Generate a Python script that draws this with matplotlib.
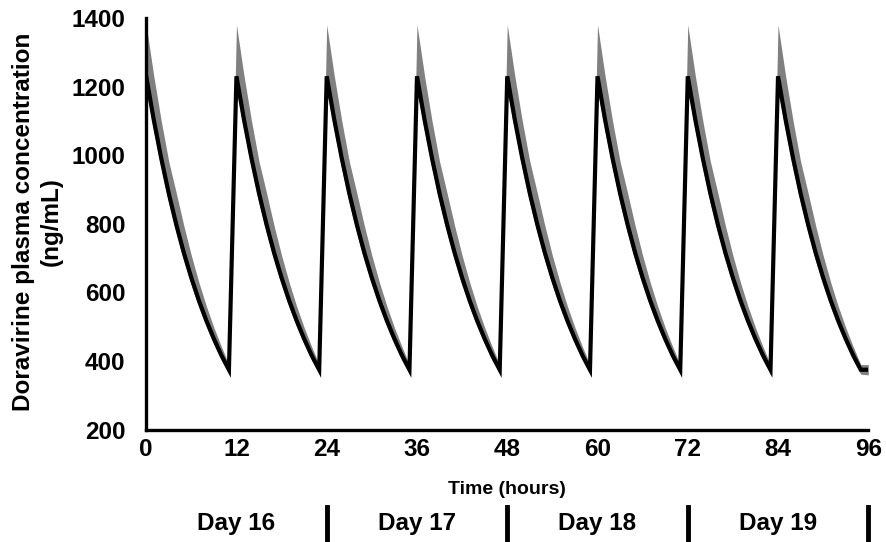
import numpy as np
import matplotlib.pyplot as plt
from matplotlib.transforms import blended_transform_factory

plt.rcParams['font.family'] = ['Liberation Sans', 'DejaVu Sans']
plt.rcParams['font.weight'] = 'bold'

# one 12 h dosing interval (hours 0..11 after dose)
hours_in_cycle = [0, 1, 2, 3, 4, 5, 6, 7, 8, 9, 10, 11]
mean_conc = [1230, 1104, 991, 889, 798, 716, 643, 577, 518, 465, 417, 375]
upper_conc = [1380, 1232, 1100, 982, 890, 795, 708, 630, 560, 498, 442, 390]
lower_conc = [1190, 1070, 960, 860, 772, 692, 621, 557, 500, 449, 402, 362]
dose_times = [0, 12, 24, 36, 48, 60, 72, 84]
end_time = 96
end_mean, end_upper, end_lower = 375, 390, 360

xticks = [0, 12, 24, 36, 48, 60, 72, 84, 96]
yticks = [200, 400, 600, 800, 1000, 1200, 1400]
day_labels = ['Day 16', 'Day 17', 'Day 18', 'Day 19']
day_centers = [12, 36, 60, 84]
day_bounds = [24, 48, 72, 96]

t = []
m = []
hi = []
lo = []
for d in dose_times:
    t += [d + h for h in hours_in_cycle]
    m += mean_conc
    hi += upper_conc
    lo += lower_conc
t.append(end_time)
m.append(end_mean)
hi.append(end_upper)
lo.append(end_lower)

fig = plt.figure(figsize=(8.86, 5.42), dpi=100)
ax = fig.add_axes([0.165, 0.207, 0.815, 0.76])

ax.fill_between(t, lo, hi, color='#808080', lw=0)
ax.plot(t, m, color='black', lw=3.0, solid_joinstyle='miter')

ax.set_xlim(0, 96)
ax.set_ylim(200, 1400)
ax.set_xticks(xticks)
ax.set_yticks(yticks)
ax.tick_params(axis='both', length=0, labelsize=17.5)
ax.tick_params(axis='y', pad=15)
ax.tick_params(axis='x', pad=6)
for s in ['top', 'right']:
    ax.spines[s].set_visible(False)
for s in ['left', 'bottom']:
    ax.spines[s].set_linewidth(2.4)

ax.set_ylabel('Doravirine plasma concentration\n(ng/mL)', fontsize=17.5,
              fontweight='bold', linespacing=1.25)
ax.yaxis.set_label_coords(-0.116, 0.505)
ax.set_xlabel('Time (hours)', fontsize=14, fontweight='bold', labelpad=14)

trans = blended_transform_factory(ax.transData, fig.transFigure)
for x, lab in zip(day_centers, day_labels):
    ax.text(x, 0.034, lab, transform=trans, ha='center', va='center',
            fontsize=17.5, fontweight='bold')
for x in day_bounds:
    ax.plot([x, x], [0.0, 0.065], transform=trans, color='black', lw=3.5,
            clip_on=False)

fig.savefig('out.png', dpi=100)
